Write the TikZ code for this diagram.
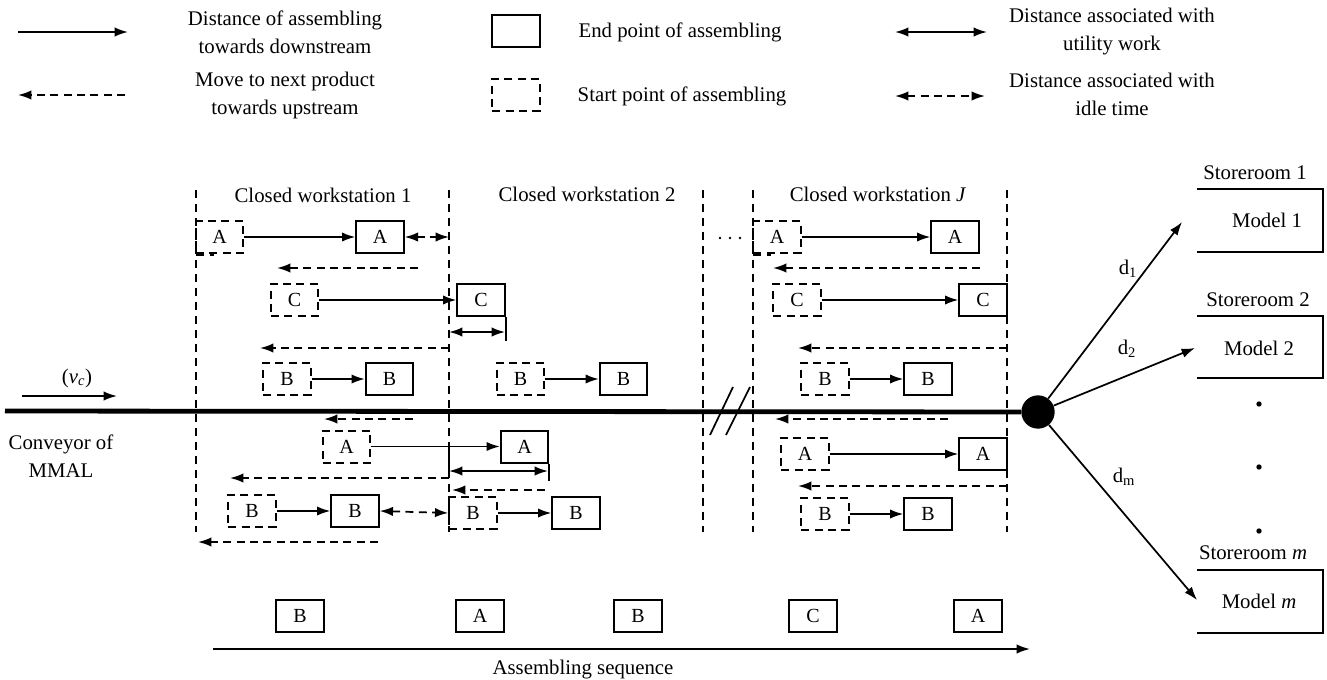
\documentclass[tikz,border=0pt]{standalone}
\usepackage{fontspec}
\setmainfont{Liberation Serif}
\usetikzlibrary{arrows.meta}
\begin{document}
\begin{tikzpicture}[x=0.75pt,y=-0.75pt,
  every node/.style={font=\fontsize{15.6}{21}\selectfont, inner sep=0pt},
  txt/.style={align=center},
  tip/.style={-{Latex[length=10pt,width=7pt]}},
  dtip/.style={{Latex[length=10pt,width=7pt]}-{Latex[length=10pt,width=7pt]}},
  sarrow/.style={tip, line width=1.3pt},
  darrow/.style={tip, line width=1.3pt, dash pattern=on 6pt off 4pt},
  utilarrow/.style={dtip, line width=1.3pt},
  idlearrow/.style={dtip, line width=1.3pt, dash pattern=on 6pt off 4pt},
  solidbox/.style={draw, line width=1.5pt, minimum width=35.5pt, minimum height=24pt, font=\fontsize{15}{17}\selectfont},
  dashbox/.style={solidbox, dash pattern=on 6pt off 4pt},
  wsline/.style={line width=1.2pt, dash pattern=on 6pt off 4.5pt},
  conv/.style={line width=3.6pt},
  thin/.style={line width=1.3pt},
  store/.style={line width=1.5pt}
]
\useasboundingbox (0,0) rectangle (1327,679);

% ---------------- Legend ----------------
\coordinate (l1a) at (18,32); \coordinate (l1b) at (128,32);
\draw[sarrow] (l1a) -- (l1b);
\node[txt] (t1) at (285,32) {Distance of assembling\\towards downstream};
\coordinate (l2a) at (125,95); \coordinate (l2b) at (18,95);
\draw[darrow] (l2a) -- (l2b);
\node[txt] (t2) at (285,95) {Move to next product\\towards upstream};
\node[solidbox] (lb1) at (516,31) {};
\node[txt] (t3) at (680,32) {End point of assembling};
\node[dashbox] (lb2) at (516,95) {};
\node[txt] (t4) at (682,96) {Start point of assembling};
\coordinate (l3a) at (895,32); \coordinate (l3b) at (987,32);
\draw[utilarrow] (l3a) -- (l3b);
\node[txt] (t5) at (1112,32) {Distance associated with\\utility work};
\coordinate (l4a) at (895,96); \coordinate (l4b) at (985,96);
\draw[idlearrow] (l4a) -- (l4b);
\node[txt] (t6) at (1112,94) {Distance associated with\\idle time};

% ---------------- Workstation boundaries ----------------
\foreach \x in {196,449,703,753,1007} \draw[wsline] (\x,190) -- (\x,532);
\node (h1) at (323,195) {Closed workstation 1};
\node (h2) at (587,194) {Closed workstation 2};
\node (h3) at (878,194) {Closed workstation \textit{J}};

% ---------------- Conveyor ----------------
\node[circle, fill=black, minimum size=25pt] (hub) at (1038,412) {};
\coordinate (cs) at (5,411);
\draw[conv] (cs) -- (hub);
\coordinate (v1) at (22,396); \coordinate (v2) at (117,396);
\draw[sarrow] (v1) -- (v2);
\node (vc) at (77,378) {(\textit{v}\textsubscript{\textit{c}})};
\node[txt] (cm) at (61,456) {Conveyor of\\MMAL};
\draw[thin] (710,435) -- (733,387);
\draw[thin] (726,435) -- (750,387);

% ---------------- Workstation 1 ----------------
\node[dashbox] (dA1) at (219.5,237) {A};
\node[solidbox] (sA1) at (380,237) {A};
\draw[sarrow] (dA1.east) -- (sA1.west);
\coordinate (w1r1) at (449,237);
\draw[idlearrow] (sA1.east) -- (w1r1);
\draw[wsline] (196,255) -- (214,255);

\coordinate (m1a) at (418,268); \coordinate (m1b) at (277,268);
\draw[darrow] (m1a) -- (m1b);

\node[dashbox] (dC1) at (294.5,300) {C};
\node[solidbox] (sC1) at (481,300) {C};
\draw[sarrow] (dC1.east) -- (sC1.west);
\coordinate (u1a) at (449,332); \coordinate (u1b) at (505,332);
\draw[utilarrow] (u1a) -- (u1b);
\draw[thin] (sC1.south east) -- ++(0,24);

\coordinate (m2a) at (449,348); \coordinate (m2b) at (260,348);
\draw[darrow] (m2a) -- (m2b);

\node[dashbox] (dB1) at (287,379) {B};
\node[solidbox] (sB1) at (389.5,379) {B};
\draw[sarrow] (dB1.east) -- (sB1.west);

\coordinate (m3a) at (413,419); \coordinate (m3b) at (324,419);
\draw[darrow] (m3a) -- (m3b);

\node[dashbox] (dA2) at (346.5,446.5) {A};
\node[solidbox] (sA2) at (524.5,446.5) {A};
\draw[sarrow] (dA2.east) -- (sA2.west);
\coordinate (u2a) at (449,471); \coordinate (u2b) at (548,471);
\draw[utilarrow] (u2a) -- (u2b);
\draw[thin] (sA2.south east) -- ++(0,17);
\draw[thin] (449,446) -- (449,471);

\coordinate (m4a) at (449,478); \coordinate (m4b) at (230,478);
\draw[darrow] (m4a) -- (m4b);

\node[dashbox] (dB2) at (252,511) {B};
\node[solidbox] (sB2) at (355,511) {B};
\draw[sarrow] (dB2.east) -- (sB2.west);

\coordinate (m5a) at (378,542); \coordinate (m5b) at (198,542);
\draw[darrow] (m5a) -- (m5b);

% ---------------- Workstation 2 ----------------
\node[dashbox] (dB4) at (520.5,379) {B};
\node[solidbox] (sB4) at (623.5,379) {B};
\draw[sarrow] (dB4.east) -- (sB4.west);

\coordinate (m6a) at (545,490); \coordinate (m6b) at (452,490);
\draw[darrow] (m6a) -- (m6b);

\node[dashbox] (dB3) at (473,513) {B};
\node[solidbox] (sB3) at (576,513) {B};
\draw[sarrow] (dB3.east) -- (sB3.west);
\draw[idlearrow] (sB2.east) -- (dB3.west);

% ---------------- Workstation J ----------------
\fill (720,238) circle (1pt) (730,238) circle (1pt) (740,238) circle (1pt);

\node[dashbox] (dA3) at (777,237) {A};
\node[solidbox] (sA3) at (955,237) {A};
\draw[sarrow] (dA3.east) -- (sA3.west);
\draw[wsline] (753,255) -- (771,255);

\coordinate (m7a) at (980,268); \coordinate (m7b) at (773,268);
\draw[darrow] (m7a) -- (m7b);

\node[dashbox] (dC2) at (797,300) {C};
\node[solidbox] (sC2) at (983,300) {C};
\draw[sarrow] (dC2.east) -- (sC2.west);

\coordinate (m8a) at (1007,348); \coordinate (m8b) at (798,348);
\draw[darrow] (m8a) -- (m8b);

\node[dashbox] (dB5) at (825,379) {B};
\node[solidbox] (sB5) at (928,379) {B};
\draw[sarrow] (dB5.east) -- (sB5.west);

\coordinate (m9a) at (948,419); \coordinate (m9b) at (775,419);
\draw[darrow] (m9a) -- (m9b);

\node[dashbox] (dA4) at (805,454) {A};
\node[solidbox] (sA4) at (983,454) {A};
\draw[sarrow] (dA4.east) -- (sA4.west);

\coordinate (m10a) at (1007,486); \coordinate (m10b) at (798,486);
\draw[darrow] (m10a) -- (m10b);

\node[dashbox] (dB6) at (825,514) {B};
\node[solidbox] (sB6) at (928,514) {B};
\draw[sarrow] (dB6.east) -- (sB6.west);

% ---------------- Storerooms ----------------
\node (s1) at (1255,173) {Storeroom 1};
\draw[store] (1197,189) -- (1323,189) -- (1323,252) -- (1197,252);
\node (md1) at (1267,220) {Model 1};
\node (s2) at (1258,300) {Storeroom 2};
\draw[store] (1197,316) -- (1323,316) -- (1323,378) -- (1197,378);
\node (md2) at (1259,348) {Model 2};
\node (s3) at (1253,553) {Storeroom \textit{m}};
\draw[store] (1197,570) -- (1323,570) -- (1323,633) -- (1197,633);
\node (md3) at (1259,601) {Model \textit{m}};
\fill (1259,404) circle (2pt) (1259,467) circle (2pt) (1259,531) circle (2pt);

\coordinate (e1) at (1182,222);
\coordinate (e2) at (1195,348);
\coordinate (e3) at (1197,600);
\draw[sarrow] (hub) -- (e1);
\draw[sarrow] (hub) -- (e2);
\draw[sarrow] (hub) -- (e3);
\node (d1) at (1128,269) {d\textsubscript{1}};
\node (d2) at (1127,349) {d\textsubscript{2}};
\node (dm) at (1124,477) {d\textsubscript{m}};

% ---------------- Assembling sequence ----------------
\node[solidbox] (q1) at (300,616) {B};
\node[solidbox] (q2) at (480,616) {A};
\node[solidbox] (q3) at (638,616) {B};
\node[solidbox] (q4) at (813,616) {C};
\node[solidbox] (q5) at (978,616) {A};
\coordinate (sq1) at (213,649); \coordinate (sq2) at (1030,649);
\draw[sarrow] (sq1) -- (sq2);
\node (sqt) at (583,670) {Assembling sequence};
\end{tikzpicture}
\end{document}
